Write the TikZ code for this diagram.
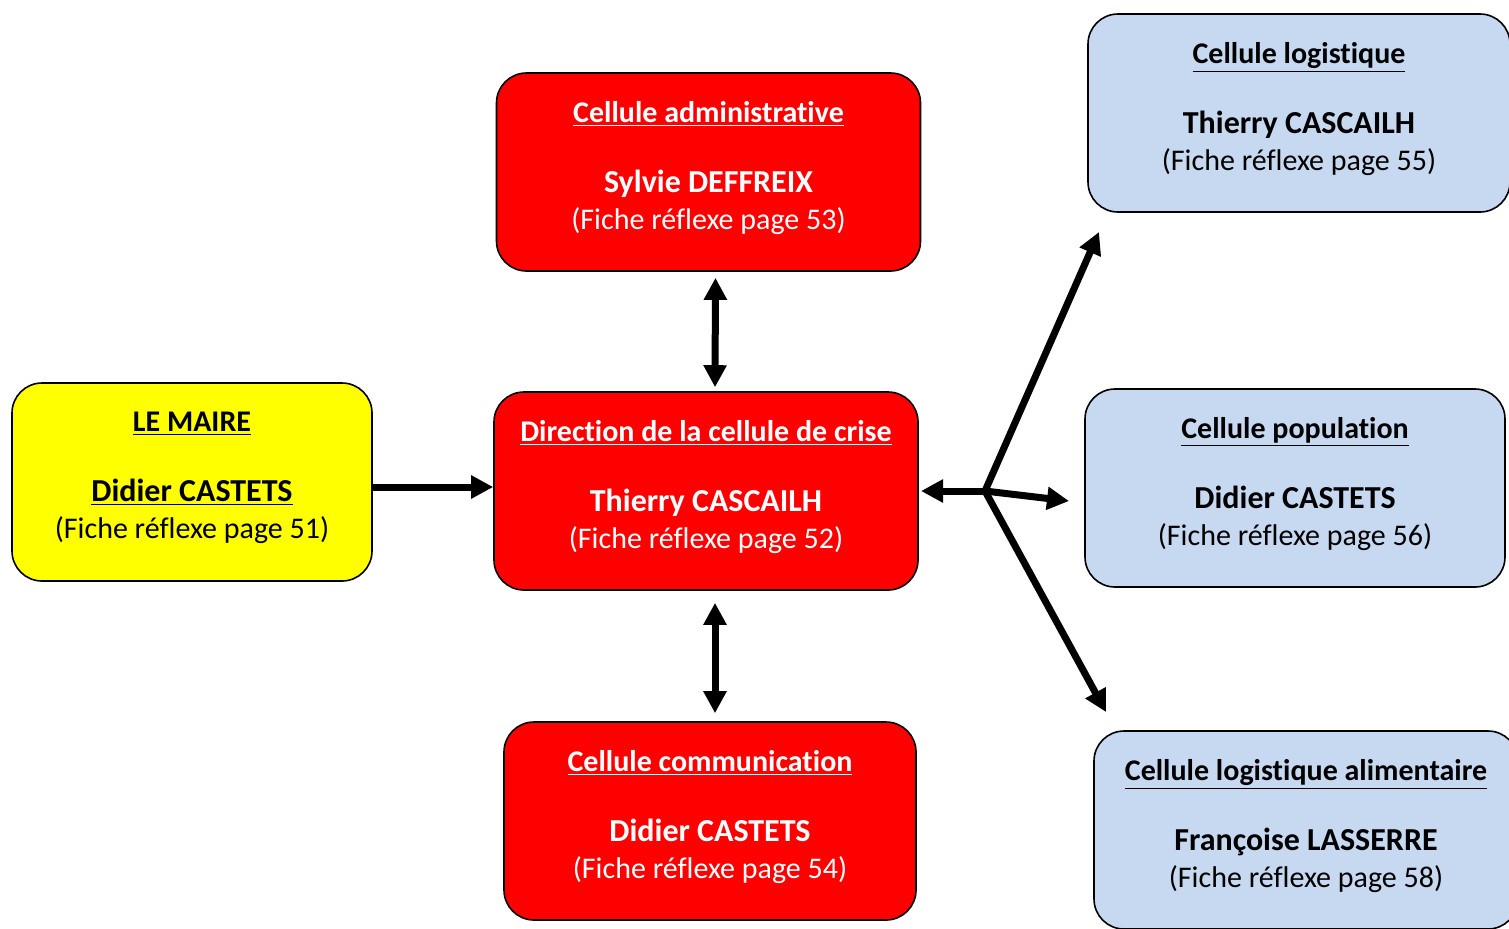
\documentclass[tikz,border=0pt]{standalone}
\usepackage{fontspec}
\setmainfont{Carlito}[Ligatures=NoCommon]
\usepackage{xcolor}
\usetikzlibrary{arrows.meta}
\definecolor{cellred}{RGB}{255,0,0}
\definecolor{cellyellow}{RGB}{255,255,0}
\definecolor{cellblue}{RGB}{198,217,240}
\newcommand{\cellname}[1]{{\fontsize{16pt}{18.5pt}\selectfont\textbf{#1}}}
\newcommand{\cellfiche}[1]{(Fiche réflexe page #1)\rule[-7pt]{0pt}{7pt}}
\newcommand{\cellbody}[3]{\underline{\textbf{#1}}\\[16.5pt]\cellname{#2}\\\cellfiche{#3}}

\begin{document}
\begin{tikzpicture}[
  x=0.5pt, y=-0.5pt,
  font=\fontsize{15pt}{18.5pt}\selectfont, >={Triangle[length=11pt,width=11pt]},
  cell/.style={draw,line width=0.8pt,rounded corners=15pt,minimum height=99pt,align=center,inner sep=0pt},
  red/.style={cell,fill=cellred,text=white,minimum width=212pt},
  maire/.style={cell,fill=cellyellow,minimum width=180pt},
  blue/.style={cell,fill=cellblue,minimum width=211pt},
  link/.style={line width=3.5pt}]
\useasboundingbox (0,0) rectangle (1509,928);
% central column
\node[red] (dir) at (706,491) {\cellbody{Direction de la cellule de crise}{Thierry CASCAILH}{52}};
\node[red] (admin) at (708.5,172) {\cellbody{Cellule administrative}{Sylvie DEFFREIX}{53}};
\node[red,minimum width=206pt] (comm) at (710,821) {\cellbody{Cellule communication}{Didier CASTETS}{54}};
% mayor on the left
\node[maire] (maire) at (192,482) {\underline{\textbf{LE MAIRE}}\\[16.5pt]\underline{\cellname{Didier CASTETS}}\\\cellfiche{51}};
% cells on the right
\node[blue] (logi) at (1299,113) {\cellbody{Cellule logistique}{Thierry CASCAILH}{55}};
\node[blue,minimum width=210pt] (popu) at (1295,488) {\cellbody{Cellule population}{Didier CASTETS}{56}};
\node[blue,minimum width=212pt] (alim) at (1306,830) {\cellbody{Cellule logistique alimentaire}{Françoise LASSERRE}{58}};
% links
\coordinate (hub) at (985,491);
\coordinate (tipdir) at (921,491);
\coordinate (tiplogi) at (1099,232);
\coordinate (tippopu) at (1069,501);
\coordinate (tipalim) at (1106,712);
\draw[link,->] (maire.east |- 0,487) -- (dir.west |- 0,487);
\draw[link,<->] ([xshift=3.5pt,yshift=-3pt]admin.south) -- ([xshift=4.5pt,yshift=2pt]dir.north);
\draw[link,<->] ([xshift=4.5pt,yshift=-6pt]dir.south) -- ([xshift=2.5pt,yshift=4pt]comm.north);
\draw[link,->] (hub) -- (tipdir);
\foreach \t in {tiplogi,tippopu,tipalim} \draw[link,->] (hub) -- (\t);
\end{tikzpicture}
\end{document}
